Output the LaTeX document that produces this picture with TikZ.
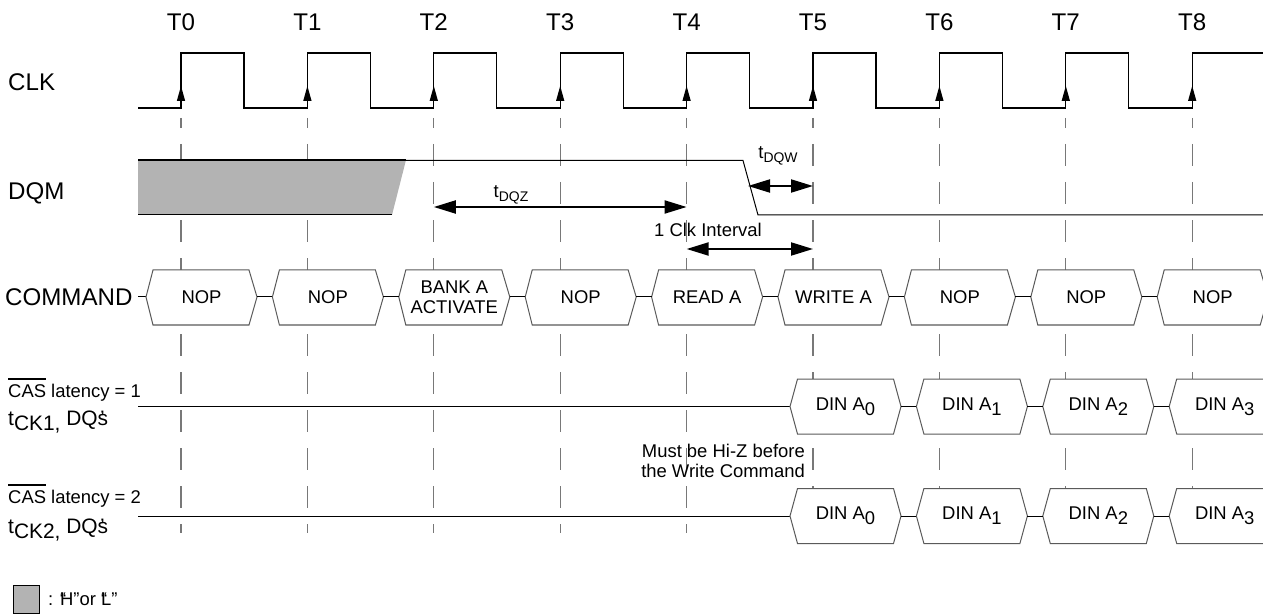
\documentclass[tikz,border=0pt]{standalone}
\usepackage{fontspec}
\setmainfont{Liberation Sans}
\usetikzlibrary{arrows.meta}
\newlength\ovlen
\newcommand\myovl[1]{\settowidth\ovlen{#1}\rlap{\rule[0.93em]{\ovlen}{1.5bp}}#1}
\newcommand\fbig{\fontsize{24.2}{28}\selectfont}
\newcommand\fsmall{\fontsize{18.5}{20.5}\selectfont}
\newcommand\fck{\fontsize{21}{25}\selectfont}
\newcommand\fsub{\fontsize{14}{16}\selectfont}
\definecolor{hgray}{RGB}{179,179,179}
\definecolor{dgray}{RGB}{120,120,120}
\definecolor{bgray}{RGB}{90,90,90}
\tikzset{
  sig/.style={draw=black,line width=1bp},
  clk/.style={draw=black,line width=1.3bp},
  dashline/.style={draw=dgray,line width=1.3bp,dash pattern=on 22bp off 16bp,dash phase=12bp},
  hexline/.style={draw=bgray,line width=1bp,fill=white},
  dimarrow/.style={line width=2bp,{Triangle[length=22bp,width=13bp]}-{Triangle[length=22bp,width=13bp]}},
  lbl/.style={inner sep=0pt,font=\fbig},
  txt/.style={inner sep=0pt,font=\fsmall,align=center}
}
\begin{document}
\begin{tikzpicture}[x=1bp,y=-1bp]
\useasboundingbox (0,0) rectangle (1263,616);
\clip (0,0) rectangle (1263,616);
% dashed time lines
\foreach \i in {0,...,8} {
  \pgfmathsetmacro\tx{181+126.4*\i}
  \draw[dashline] (\tx,118) -- (\tx,533);
  \node[lbl] (tl\i) at (\tx,22) {T\i};
}
% CLK
\node[lbl,anchor=west] (clkl) at (8,82) {CLK};
\draw[clk] (138,108) \foreach \i in {0,...,7} { -- ({181+126.4*\i},108) -- ++(0,-55) -- ++(63,0) -- ++(0,55) } -- (1192.2,108) -- (1192.2,53) -- (1263,53);
\foreach \i in {0,...,8} \fill ({181+126.4*\i},86) -- ++(4.2,15) -- ++(-8.4,0) -- cycle;
% DQM
\node[lbl,anchor=base west] (dqml) at (8,200) {DQM};
\fill[hgray] (138,160) -- (406,160) -- (392,215) -- (138,215) -- cycle;
\draw[line width=1.8bp] (138,160) -- (406,160);
\draw[sig] (406,160.5) -- (743,160.5) -- (758,215) -- (1263,215);
\draw[sig] (138,215) -- (392,215);
\draw[dimarrow] (433.8,207) -- (686.6,207);
\node[inner sep=0pt,anchor=base,font=\fsmall] (tdqz) at (511,198) {t\raisebox{-4bp}{\fsub DQZ}};
\draw[dimarrow] (748,186) -- (813,186);
\node[inner sep=0pt,anchor=base,font=\fsmall] (tdqw) at (778,159) {t\raisebox{-4bp}{\fsub DQW}};
\node[inner sep=0pt,anchor=base,font=\fsmall] (clki) at (708,237) {1 Clk Interval};
\draw[dimarrow] (686.6,249) -- (813,249);
% COMMAND
\node[lbl,anchor=west] (cmdl) at (5,297) {COMMAND};
\draw[sig] (138,297) -- (146,297);
\foreach \i/\t in {0/NOP,1/NOP,2/{BANK A\\ACTIVATE},3/NOP,4/READ A,5/WRITE A,6/NOP,7/NOP,8/NOP} {
  \pgfmathsetmacro\tx{181+126.4*\i}
  \draw[hexline] ({\tx-35},297) -- ({\tx-28},270) -- ({\tx+68},270) -- ({\tx+76},297) -- ({\tx+68},325) -- ({\tx-28},325) -- cycle;
  \node[txt] (cmd\i) at ({\tx+20.5},297) {\t};
}
\foreach \i in {0,...,7} {
  \pgfmathsetmacro\tx{181+126.4*\i}
  \draw[sig] ({\tx+76},297) -- ({\tx+126.4-35},297);
}
% data rows
\foreach \m/\r in {406.5/1,516/2} {
  \draw[sig] (138,\m) -- ({181+126.4*5-23},\m);
  \foreach \i/\k in {5/0,6/1,7/2,8/3} {
    \pgfmathsetmacro\tx{181+126.4*\i}
    \draw[hexline] ({\tx-23},\m) -- ({\tx-15.5},\m-27.5) -- ({\tx+80.5},\m-27.5) -- ({\tx+88},\m) -- ({\tx+80.5},\m+27.5) -- ({\tx-15.5},\m+27.5) -- cycle;
    \node[txt] (din\r\k) at ({\tx+32.5},\m) {DIN A\raisebox{-5bp}{\k}};
  }
  \foreach \i in {5,6,7} {
    \pgfmathsetmacro\tx{181+126.4*\i}
    \draw[sig] ({\tx+88},\m) -- ({\tx+126.4-23},\m);
  }
}
\node[inner sep=0pt,anchor=base west,font=\fsmall] (cas1) at (8,397) {\myovl{CAS} latency = 1};
\node[inner sep=0pt,anchor=base west,font=\fck] (tck1) at (8,425) {t\raisebox{-5bp}{CK1,} DQ\rlap{\kern0.12em'}s};
\node[inner sep=0pt,anchor=base west,font=\fsmall] (cas2) at (8,503) {\myovl{CAS} latency = 2};
\node[inner sep=0pt,anchor=base west,font=\fck] (tck2) at (8,533) {t\raisebox{-5bp}{CK2,} DQ\rlap{\kern0.12em'}s};
\node[inner sep=0pt,anchor=north east,font=\fsmall,align=right] (hiz) at (805,444) {Must be Hi-Z before\\the Write Command};
% legend
\filldraw[fill=hgray,draw=black,line width=1bp] (13,585) rectangle (39,613);
\node[inner sep=0pt,anchor=west,font=\fsmall] (leg) at (48,599) {: \rlap{“}H”or \rlap{“}L”};
\end{tikzpicture}
\end{document}
